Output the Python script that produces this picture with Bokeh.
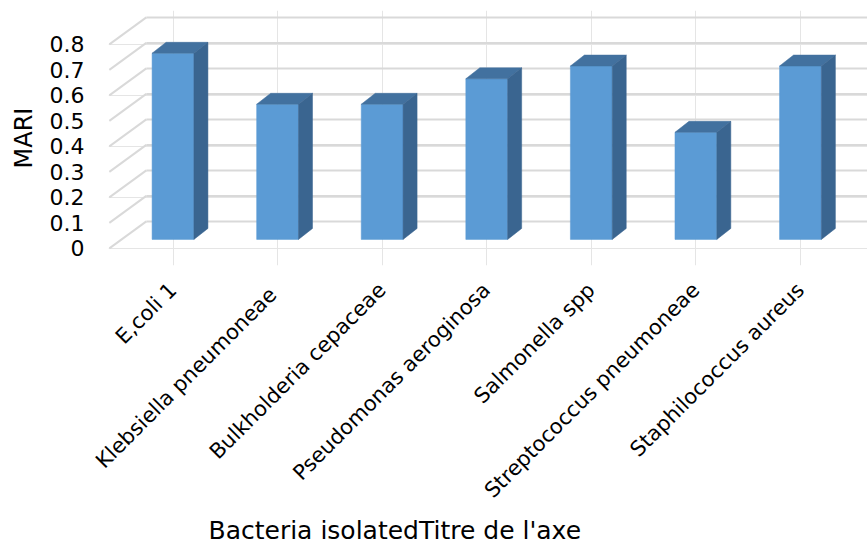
import math
from bokeh.plotting import figure
from bokeh.models import FixedTicker, LinearAxis, Title, Range1d, NumeralTickFormatter
from bokeh.embed import file_html
from bokeh.resources import INLINE

# ---- data ----
categories = ["E,coli 1", "Klebsiella  pneumoneae", "Bulkholderia cepaceae",
              "Pseudomonas aeroginosa", "Salmonella spp", "Streptococcus pneumoneae",
              "Staphilococcus aureus"]
mari = [0.73, 0.53, 0.53, 0.63, 0.68, 0.42, 0.68]
y_ticks = [0, 0.1, 0.2, 0.3, 0.4, 0.5, 0.6, 0.7, 0.8]
y_title = "MARI"
x_title = "Bacteria isolatedTitre de l'axe"

# ---- layout / 3D geometry (data units) ----
FONT = "DejaVu Sans"
x_start, x_end = -0.6168, 6.641
y_start, y_end = -0.067, 0.933
wall_x0 = x_start + 0.008  # front-left edge of the side wall
Dx, Dy = 0.3538, 0.1059    # full depth of floor
half = 0.2                 # half bar width
base = 0.0353              # bar front-face base (depth offset)
bdx, bdy = 0.134, 0.043    # bar depth
FRONT, TOP, SIDE, GRID = "#5B9BD5", "#42719F", "#3A6590", "#D9D9D9"

p = figure(width=867, height=543, output_backend="svg", toolbar_location=None,
           x_range=Range1d(x_start, x_end), y_range=Range1d(y_start, y_end),
           x_axis_location=None, y_axis_location=None,
           min_border_left=108, min_border_right=0, min_border_top=10,
           min_border_bottom=278)
p.outline_line_color = None
p.background_fill_color = "white"
p.border_fill_color = "white"

# gridlines: side wall diagonals and back wall horizontals
n_t = len(y_ticks)
p.segment(x0=[wall_x0] * n_t, y0=y_ticks,
          x1=[wall_x0 + Dx] * n_t, y1=[t + Dy for t in y_ticks],
          line_color=GRID, line_width=2)
p.segment(x0=[wall_x0 + Dx] * n_t, y0=[t + Dy for t in y_ticks],
          x1=[x_end] * n_t, y1=[t + Dy for t in y_ticks],
          line_color=GRID, line_width=2)

# bars
xs = list(range(len(categories)))
p.quad(left=[i - half for i in xs], right=[i + half for i in xs],
       bottom=[base] * len(xs), top=[base + v for v in mari],
       fill_color=FRONT, line_color=FRONT, line_width=0.5)
p.patches(xs=[[i - half, i + half, i + half + bdx, i - half + bdx] for i in xs],
          ys=[[base + v, base + v, base + v + bdy, base + v + bdy] for v in mari],
          fill_color=TOP, line_color=TOP, line_width=0.5)
p.patches(xs=[[i + half, i + half + bdx, i + half + bdx, i + half] for i in xs],
          ys=[[base, base + bdy, base + v + bdy, base + v] for v in mari],
          fill_color=SIDE, line_color=SIDE, line_width=0.5)

# axes
yax = LinearAxis(ticker=FixedTicker(ticks=y_ticks),
                 formatter=NumeralTickFormatter(format="0.[0]"),
                 axis_label=y_title)
xax = LinearAxis(ticker=FixedTicker(ticks=xs),
                 major_label_overrides={i: c for i, c in zip(xs, categories)},
                 major_label_orientation=math.pi / 4)
for ax in (yax, xax):
    ax.axis_line_color = None
    ax.major_tick_line_color = None
    ax.minor_tick_line_color = None
    ax.major_tick_out = 0
    ax.major_tick_in = 0
    ax.major_label_text_font = FONT
    ax.major_label_text_font_size = "22px"
    ax.major_label_text_color = "black"
xax.major_label_text_font_size = "21px"
yax.major_label_standoff = 24
yax.axis_label_text_font = FONT
yax.axis_label_text_font_size = "24px"
yax.axis_label_text_font_style = "normal"
yax.axis_label_text_color = "black"
yax.axis_label_standoff = 9
xax.major_label_standoff = 21
p.add_layout(yax, "left")
p.add_layout(xax, "below")

p.add_layout(Title(text=x_title, align="left", offset=100, text_font=FONT,
                   text_font_size="25px", text_font_style="normal",
                   text_color="black", standoff=-2), "below")

open("out.html", "w").write(file_html(p, INLINE))
